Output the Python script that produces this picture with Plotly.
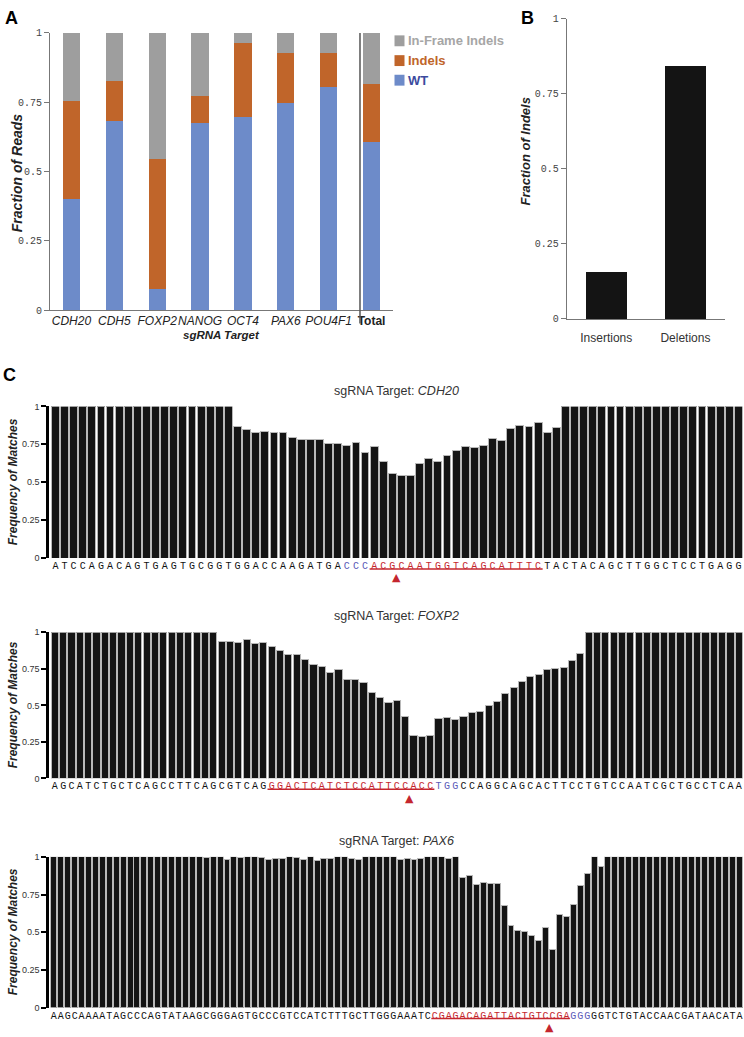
import plotly.graph_objects as go

# ---------------- Panel A data ----------------
targets = ["CDH20", "CDH5", "FOXP2", "NANOG", "OCT4", "PAX6", "POU4F1", "Total"]
wt_frac = [0.401, 0.682, 0.077, 0.674, 0.698, 0.748, 0.804, 0.608]
indel_frac = [0.354, 0.144, 0.467, 0.097, 0.267, 0.179, 0.122, 0.207]
inframe_frac = [0.245, 0.174, 0.456, 0.229, 0.035, 0.073, 0.074, 0.185]
series_names = ["WT", "Indels", "In-Frame Indels"]
series_colors = ["#6d8bc9", "#c0652a", "#9e9e9e"]
series_text_colors = ["#3c4a9e", "#c0652a", "#a6a6a6"]
frac_ticks = [0, 0.25, 0.5, 0.75, 1]
frac_ticktext = ["0", "0.25", "0.5", "0.75", "1"]

# ---------------- Panel B data ----------------
indel_types = ["Insertions", "Deletions"]
indel_type_frac = [0.158, 0.842]

# ---------------- Panel C data ----------------
cdh20_seq = "ATCCAGACAGTGAGTGCGGTGGACCAAGATGA" + "CCC" + "ACGCAATGGTCAGCATTTC" + "TACTACAGCTTGGCTCCTGAGG"
cdh20_freq = [1, 1, 1, 1, 1, 1, 1, 1, 1, 1,
              1, 1, 1, 1, 1, 1, 1, 1, 1, 1,
              0.870, 0.848, 0.826, 0.833, 0.826, 0.828, 0.798, 0.783, 0.783, 0.780,
              0.754, 0.754, 0.739, 0.765, 0.696, 0.737, 0.637, 0.557, 0.546, 0.543,
              0.624, 0.659, 0.635, 0.674, 0.707, 0.733, 0.728, 0.741, 0.789, 0.778,
              0.857, 0.876, 0.870, 0.893, 0.826, 0.863, 1, 1, 1, 1,
              1, 1, 1, 1, 1, 1, 1, 1, 1, 1,
              1, 1, 1, 1, 1, 1]
cdh20_pam = (33, 35)
cdh20_spacer = (36, 54)
cdh20_cut = 38.5

foxp2_seq = "AGCATCTGCTCAGCCTTCAGCGTCAG" + "GGACTCATCTCCATTCCACC" + "TGG" + "CCAGGCAGCACTTCCTGTCCAATCGCTGCCTCAA"
foxp2_freq = [1, 1, 1, 1, 1, 1, 1, 1, 1, 1,
              1, 1, 1, 1, 1, 1, 1, 1, 1, 1,
              0.939, 0.939, 0.928, 0.950, 0.923, 0.928, 0.905, 0.878, 0.851, 0.851,
              0.815, 0.781, 0.767, 0.727, 0.747, 0.679, 0.679, 0.655, 0.589, 0.555,
              0.517, 0.530, 0.422, 0.296, 0.287, 0.296, 0.409, 0.418, 0.404, 0.427,
              0.452, 0.457, 0.498, 0.525, 0.583, 0.623, 0.665, 0.694, 0.714, 0.743,
              0.752, 0.761, 0.804, 0.853, 1, 1, 1, 1, 1, 1,
              1, 1, 1, 1, 1, 1, 1, 1, 1, 1,
              1, 1, 1]
foxp2_pam = (47, 49)
foxp2_spacer = (27, 46)
foxp2_cut = 43.5

pax6_seq = "AAGCAAAATAGCCCAGTATAAGCGGGAGTGCCCGTCCATCTTTGCTTGGGAAATC" + "CGAGACAGATTACTGTCCGA" + "GGG" + "GGTCTGTACCAACGATAACATA"
pax6_freq = [1, 1, 1, 1, 1, 1, 1, 1, 1, 1,
             1, 1, 1, 1, 1, 1, 1, 1, 1, 1,
             1, 1, 0.993, 1, 1, 0.985, 1, 0.993, 1, 1,
             0.994, 0.985, 0.987, 0.990, 1, 0.993, 0.985, 1, 0.974, 0.990,
             0.990, 1, 1, 0.990, 0.985, 1, 1, 1, 1, 1,
             0.985, 0.990, 0.985, 0.990, 1, 1, 1, 0.990, 1, 0.865,
             0.876, 0.817, 0.830, 0.820, 0.820, 0.678, 0.546, 0.509, 0.502, 0.476,
             0.446, 0.533, 0.387, 0.615, 0.602, 0.687, 0.809, 0.889, 1, 0.937,
             1, 1, 1, 1, 1, 1, 1, 1, 1, 1,
             1, 1, 1, 1, 1, 1, 1, 1, 1, 1]
pax6_pam = (76, 78)
pax6_spacer = (56, 75)
pax6_cut = 72.5

c_targets = ["CDH20", "FOXP2", "PAX6"]
c_seqs = [cdh20_seq, foxp2_seq, pax6_seq]
c_freqs = [cdh20_freq, foxp2_freq, pax6_freq]
c_pams = [cdh20_pam, foxp2_pam, pax6_pam]
c_spacers = [cdh20_spacer, foxp2_spacer, pax6_spacer]
c_cuts = [cdh20_cut, foxp2_cut, pax6_cut]

# ---------------- layout helpers ----------------
W, H = 744, 1037
def px(x):
    return x / W
def py(y):
    return 1 - y / H

SANS = "Liberation Sans, Arial, sans-serif"
MONO = "Liberation Mono, DejaVu Sans Mono, monospace"
RED = "#c4262e"
BLUE = "#5a5ab8"

fig = go.Figure()
annotations = []
shapes = []

# ---------------- Panel A ----------------
xa = list(range(len(targets)))
for name, vals, col in zip(series_names, [wt_frac, indel_frac, inframe_frac], series_colors):
    fig.add_trace(go.Bar(x=xa, y=vals, name=name, marker=dict(color=col, line=dict(width=0)),
                         width=0.4, xaxis="x", yaxis="y", showlegend=False))

a_ticktext = ["<i>%s</i>" % t for t in targets[:-1]] + ["<b>%s</b>" % targets[-1]]

# separator line before Total
shapes.append(dict(type="line", xref="x", yref="paper", x0=len(targets) - 1.27, x1=len(targets) - 1.27,
                   y0=py(322), y1=py(28.3), line=dict(color="#555", width=1.5)))

# legend (manual)
leg_top = [30.7, 50.7, 70.5]
for i, (name, col, tcol) in enumerate(zip(series_names[::-1], series_colors[::-1], series_text_colors[::-1])):
    shapes.append(dict(type="rect", xref="paper", yref="paper", x0=px(394.5), x1=px(404.5),
                       y0=py(leg_top[i] + 11), y1=py(leg_top[i]), fillcolor=col, line=dict(width=0)))
    annotations.append(dict(text="<b>%s</b>" % name, x=px(406), y=py(leg_top[i] + 5.5), xref="paper", yref="paper",
                            xanchor="left", yanchor="middle", showarrow=False,
                            font=dict(family="Liberation Sans Narrow, " + SANS, size=13, color=tcol)))

annotations.append(dict(text="<b><i>Fraction of Reads</i></b>", x=px(17), y=py(170), xref="paper", yref="paper",
                        xanchor="center", yanchor="middle",
                        textangle=-90, showarrow=False, font=dict(family=SANS, size=14, color="#222")))
annotations.append(dict(text="<b><i>sgRNA Target</i></b>", x=px(221), y=py(334), xref="paper", yref="paper",
                        xanchor="center", yanchor="middle",
                        showarrow=False, font=dict(family=SANS, size=11.5, color="#222")))

# ---------------- Panel B ----------------
xb = list(range(len(indel_types)))
fig.add_trace(go.Bar(x=xb, y=indel_type_frac, marker=dict(color="#141414", line=dict(width=0)),
                     width=0.52, xaxis="x2", yaxis="y2", showlegend=False))
annotations.append(dict(text="<b><i>Fraction of Indels</i></b>", x=px(525), y=py(148), xref="paper", yref="paper",
                        xanchor="center", yanchor="middle",
                        textangle=-90, showarrow=False, font=dict(family=SANS, size=13, color="#222")))

# ---------------- Panel C ----------------
c_dom_px = [(405.7, 559.0), (634.0, 781.7), (861.0, 1013.3)]
c_title_y = [390, 618, 845]
for k in range(3):
    seq, freq = c_seqs[k], c_freqs[k]
    n = len(seq)
    xs = list(range(1, n + 1))
    ax = k + 3
    fig.add_trace(go.Bar(x=xs, y=freq, marker=dict(color="#141414", line=dict(color="#b8b8b8", width=1)),
                         width=0.86, xaxis="x%d" % ax, yaxis="y%d" % ax, showlegend=False))
    ticktext = []
    for i, ch in enumerate(seq, start=1):
        if c_spacers[k][0] <= i <= c_spacers[k][1]:
            ticktext.append('<span style="color:%s">%s</span>' % (RED, ch))
        elif c_pams[k][0] <= i <= c_pams[k][1]:
            ticktext.append('<span style="color:%s">%s</span>' % (BLUE, ch))
        else:
            ticktext.append(ch)
    top, bot = c_dom_px[k]
    hpx = bot - top
    fig.update_layout(**{
        "xaxis%d" % ax: dict(domain=[px(49), px(743)], range=[0.3, n + 0.5], anchor="y%d" % ax,
                             showline=False, zeroline=False, showgrid=False, ticks="",
                             tickmode="array", tickvals=xs, ticktext=ticktext, tickangle=0,
                             tickfont=dict(family=MONO, size=10, color="#111")),
        "yaxis%d" % ax: dict(domain=[py(bot), py(top)], range=[0, 1], anchor="x%d" % ax,
                             showline=True, linecolor="#000", linewidth=2.5, showgrid=False, zeroline=False,
                             ticks="outside", ticklen=5, tickwidth=2, tickcolor="#000",
                             tickmode="array", tickvals=frac_ticks, ticktext=frac_ticktext,
                             tickfont=dict(family=SANS, size=9, color="#333")),
    })
    # protospacer underline
    shapes.append(dict(type="line", xref="x%d" % ax, yref="y%d domain" % ax,
                       x0=c_spacers[k][0] - 0.5, x1=c_spacers[k][1] + 0.5,
                       y0=-11 / hpx, y1=-11 / hpx, line=dict(color=RED, width=1.6)))
    # cut-site arrow
    annotations.append(dict(text="▲", x=c_cuts[k], y=-20 / hpx, xref="x%d" % ax, yref="y%d domain" % ax,
                            showarrow=False, yanchor="middle", xanchor="center",
                            font=dict(family="DejaVu Sans", size=11, color=RED)))
    annotations.append(dict(text="sgRNA Target: <i>%s</i>" % c_targets[k], x=px(396.5), y=py(c_title_y[k]),
                            xref="paper", yref="paper", showarrow=False, xanchor="center", yanchor="middle",
                            font=dict(family=SANS, size=12.5, color="#333")))
    annotations.append(dict(text="<b><i>Frequency of Matches</i></b>", x=px(13), y=py((top + bot) / 2),
                            xref="paper", yref="paper", textangle=-90, showarrow=False,
                            xanchor="center", yanchor="middle",
                            font=dict(family=SANS, size=12, color="#222")))

# panel letters
for lab, x, y in [("A", 11, 13), ("B", 527, 13), ("C", 9, 374)]:
    annotations.append(dict(text="<b>%s</b>" % lab, x=px(x), y=py(y), xref="paper", yref="paper",
                            xanchor="center", yanchor="middle",
                            showarrow=False, font=dict(family=SANS, size=18, color="#000")))

fig.update_layout(
    width=W, height=H, margin=dict(l=0, r=0, t=0, b=0),
    paper_bgcolor="white", plot_bgcolor="white",
    barmode="stack", showlegend=False,
    xaxis=dict(domain=[px(50), px(393)], range=[-0.5, len(targets) - 0.5], anchor="y",
               showline=True, linecolor="#777", linewidth=1, ticks="", showgrid=False, zeroline=False,
               tickmode="array", tickvals=xa, ticktext=a_ticktext, tickangle=0,
               tickfont=dict(family=SANS, size=12, color="#222")),
    yaxis=dict(domain=[py(308.3), py(28.3)], range=[0, 1], anchor="x",
               showline=True, linecolor="#777", linewidth=1, showgrid=False, zeroline=False,
               ticks="outside", ticklen=5, tickcolor="#777",
               tickmode="array", tickvals=frac_ticks, ticktext=frac_ticktext,
               tickfont=dict(family=MONO, size=10, color="#444")),
    xaxis2=dict(domain=[px(566.7), px(725)], range=[-0.5, len(indel_types) - 0.5], anchor="y2",
                showline=True, linecolor="#777", linewidth=1, ticks="", showgrid=False, zeroline=False,
                tickmode="array", tickvals=xb, ticktext=indel_types, ticklabelstandoff=8,
                tickfont=dict(family=SANS, size=12, color="#333")),
    yaxis2=dict(domain=[py(317.3), py(14)], range=[0, 1], anchor="x2",
                showline=True, linecolor="#777", linewidth=1, showgrid=False, zeroline=False,
                ticks="outside", ticklen=5, tickcolor="#777",
                tickmode="array", tickvals=frac_ticks, ticktext=frac_ticktext,
                tickfont=dict(family=MONO, size=10, color="#444")),
    annotations=annotations,
    shapes=shapes,
)

fig.write_html("out.html", config={"displayModeBar": False},
               post_script="document.body.style.margin='0px';document.body.style.overflow='hidden';")
